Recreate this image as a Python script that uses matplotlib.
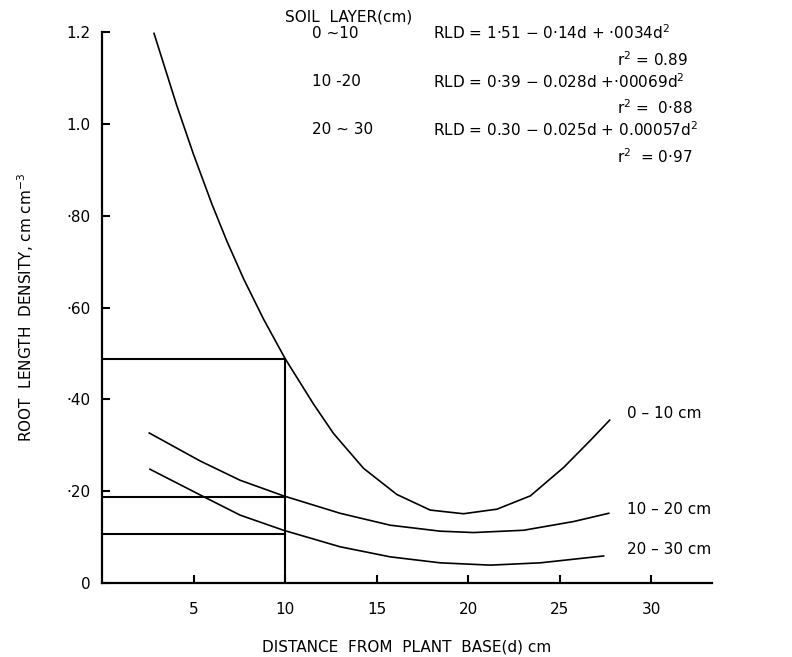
import matplotlib
matplotlib.use("Agg")
import matplotlib.pyplot as plt

# values (distance d in cm, RLD in cm cm^-3)
d_0_10 = [2.84, 4.08, 4.99, 5.99, 6.81, 7.72, 8.81, 10.0, 11.55, 12.64, 14.28, 16.10, 17.92, 19.74, 21.57, 23.39, 25.21, 26.67, 27.72]
rld_0_10 = [1.198, 1.041, 0.935, 0.827, 0.746, 0.664, 0.576, 0.489, 0.390, 0.326, 0.250, 0.193, 0.159, 0.151, 0.161, 0.190, 0.252, 0.311, 0.355]

d_10_20 = [2.58, 5.36, 7.54, 9.91, 13.0, 15.74, 18.47, 20.29, 23.02, 25.75, 27.67]
rld_10_20 = [0.327, 0.266, 0.224, 0.190, 0.152, 0.126, 0.113, 0.110, 0.115, 0.134, 0.152]

d_20_30 = [2.62, 5.36, 7.54, 9.91, 13.0, 15.74, 18.47, 21.2, 23.93, 27.39]
rld_20_30 = [0.248, 0.192, 0.148, 0.115, 0.079, 0.057, 0.044, 0.039, 0.044, 0.059]

# guide lines at d = 10
d_ref = 10
rld_ref = [0.488, 0.188, 0.107]

layers = ["0 ~10", "10 -20", "20 ~ 30"]
equations = ["RLD = 1·51 − 0·14d + ·0034d$^2$",
             "RLD = 0·39 − 0.028d +·00069d$^2$",
             "RLD = 0.30 − 0.025d + 0.00057d$^2$"]
r2 = ["r$^2$ = 0.89", "r$^2$ =  0·88", "r$^2$  = 0·97"]
curve_labels = ["0 – 10 cm", "10 – 20 cm", "20 – 30 cm"]

yticks = [0, 0.2, 0.4, 0.6, 0.8, 1.0, 1.2]
ytick_labels = ["0", "·20", "·40", "·60", "·80", "1.0", "1.2"]
xticks = [5, 10, 15, 20, 25, 30]

plt.rcParams['font.family'] = ['DejaVu Sans']
plt.rcParams['mathtext.fontset'] = 'dejavusans'

fig = plt.figure(figsize=(7.92, 6.57), dpi=100)
ax = fig.add_axes([0.1288, 0.1126, 0.770, 0.838])

lw = 1.2
ax.plot(d_0_10, rld_0_10, color='black', lw=lw)
ax.plot(d_10_20, rld_10_20, color='black', lw=lw)
ax.plot(d_20_30, rld_20_30, color='black', lw=lw)

ax.plot([d_ref, d_ref], [0, rld_ref[0]], color='black', lw=1.5)
for r in rld_ref:
    ax.plot([0, d_ref], [r, r], color='black', lw=1.5)

ax.set_xlim(0, 33.3)
ax.set_ylim(0, 1.2)
ax.spines['top'].set_visible(False)
ax.spines['right'].set_visible(False)
ax.spines['left'].set_linewidth(1.6)
ax.spines['bottom'].set_linewidth(1.6)

ax.set_yticks(yticks)
ax.set_yticklabels(ytick_labels)
ax.set_xticks(xticks)
ax.tick_params(axis='both', direction='in', length=6, width=1.5, labelsize=11, pad=8)
ax.tick_params(axis='x', pad=14)

ax.set_xlabel("DISTANCE  FROM  PLANT  BASE(d) cm", fontsize=11, labelpad=16)
ax.set_ylabel("ROOT  LENGTH  DENSITY, cm cm$^{-3}$", fontsize=11, labelpad=22)

# annotation block at top
fig.text(285 / 792, 1 - 17 / 657, "SOIL  LAYER(cm)", fontsize=11, va='center', ha='left')
rows_y = [33, 82, 130]
r2_y = [60, 108, 157]
for lab, eq, rr, yl, yr in zip(layers, equations, r2, rows_y, r2_y):
    fig.text(312 / 792, 1 - yl / 657, lab, fontsize=11, va='center', ha='left')
    fig.text(433 / 792, 1 - yl / 657, eq, fontsize=11, va='center', ha='left')
    fig.text(617 / 792, 1 - yr / 657, rr, fontsize=11, va='center', ha='left')

# curve labels on the right
label_y = [413, 509, 550]
for lab, yl in zip(curve_labels, label_y):
    fig.text(627 / 792, 1 - yl / 657, lab, fontsize=11, va='center', ha='left')

fig.savefig("out.png", dpi=100)
